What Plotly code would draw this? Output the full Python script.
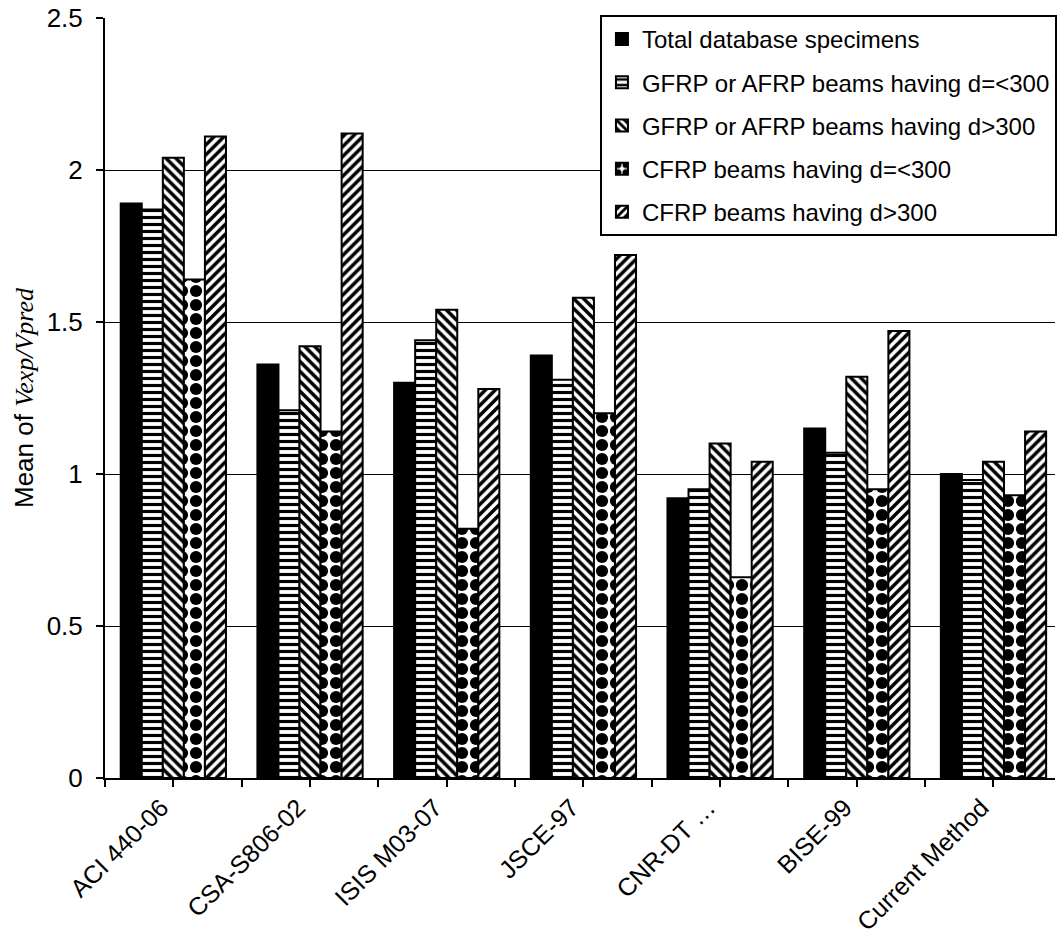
import plotly.graph_objects as go

categories = ["ACI 440-06", "CSA-S806-02", "ISIS M03-07", "JSCE-97", "CNR-DT …", "BISE-99", "Current Method"]
series_names = [
    "Total database specimens",
    "GFRP or AFRP beams having d=<300",
    "GFRP or AFRP beams having d>300",
    "CFRP beams having d=<300",
    "CFRP beams having d>300",
]
total_db = [1.89, 1.36, 1.30, 1.39, 0.92, 1.15, 1.00]
gfrp_small = [1.87, 1.21, 1.44, 1.31, 0.95, 1.07, 0.98]
gfrp_large = [2.04, 1.42, 1.54, 1.58, 1.10, 1.32, 1.04]
cfrp_small = [1.64, 1.14, 0.82, 1.20, 0.66, 0.95, 0.93]
cfrp_large = [2.11, 2.12, 1.28, 1.72, 1.04, 1.47, 1.14]
y_ticks = [0, 0.5, 1, 1.5, 2, 2.5]
y_tick_labels = ["0", "0.5", "1", "1.5", "2", "2.5"]

positions = list(range(len(categories)))
# ticks at category centres (labelled) and category boundaries (unlabelled)
x_tickvals = []
x_ticktext = []
for p, c in zip(positions, categories):
    x_tickvals += [p - 0.5, p]
    x_ticktext += ["", c]
x_tickvals.append(positions[-1] + 0.5)
x_ticktext.append("")

values = [total_db, gfrp_small, gfrp_large, cfrp_small, cfrp_large]
patterns = [
    dict(shape=""),
    dict(shape="-", fgcolor="black", bgcolor="white", fgopacity=1, size=7, solidity=0.45),
    dict(shape="\\", fgcolor="black", bgcolor="white", fgopacity=1, size=7, solidity=0.5),
    dict(shape=".", fgcolor="black", bgcolor="white", fgopacity=1, size=14, solidity=0.6),
    dict(shape="/", fgcolor="black", bgcolor="white", fgopacity=1, size=7, solidity=0.5),
]

fig = go.Figure()
for i, (name, vals, pat) in enumerate(zip(series_names, values, patterns)):
    fig.add_trace(go.Bar(
        x=positions, y=vals, name=name,
        legendgroup=f"g{i}",
        marker=dict(color="black" if i == 0 else "white",
                    line=dict(color="black", width=2),
                    pattern=pat),
    ))

font_family = "Liberation Sans, Arial, sans-serif"
fig.update_layout(
    width=1057, height=935,
    margin=dict(l=105, r=0, t=18, b=157),
    paper_bgcolor="white", plot_bgcolor="white",
    barmode="group", bargap=0.23, bargroupgap=0.0,
    font=dict(family=font_family, size=24, color="black"),
    legend=dict(
        x=0.521, y=1.004, xanchor="left", yanchor="top",
        bordercolor="black", borderwidth=2, bgcolor="white",
        traceorder="grouped", tracegroupgap=9,
        itemwidth=30,
        font=dict(size=24),
    ),
    xaxis=dict(
        range=[-0.5, 6.45],
        tickmode="array", tickvals=x_tickvals, ticktext=x_ticktext,
        showline=True, linecolor="black", linewidth=2,
        ticks="outside", ticklen=7, tickwidth=2, tickcolor="black",
        tickangle=-45, ticklabelshift=-12, ticklabelstandoff=-4,
        tickfont=dict(size=25),
        showgrid=False, zeroline=False,
    ),
    yaxis=dict(
        range=[0, 2.5],
        tickvals=y_ticks, ticktext=y_tick_labels,
        showline=True, linecolor="black", linewidth=2,
        ticks="outside", ticklen=7, tickwidth=2, tickcolor="black",
        ticklabelstandoff=8,
        showgrid=True, gridcolor="black", gridwidth=1,
        zeroline=False,
        tickfont=dict(size=26),
        title=dict(
            text="Mean of <span style='font-family:Liberation Serif, Times New Roman, serif'><i>Vexp/Vpred</i></span>",
            font=dict(size=26), standoff=6,
        ),
    ),
)

fig.write_html("out.html")
